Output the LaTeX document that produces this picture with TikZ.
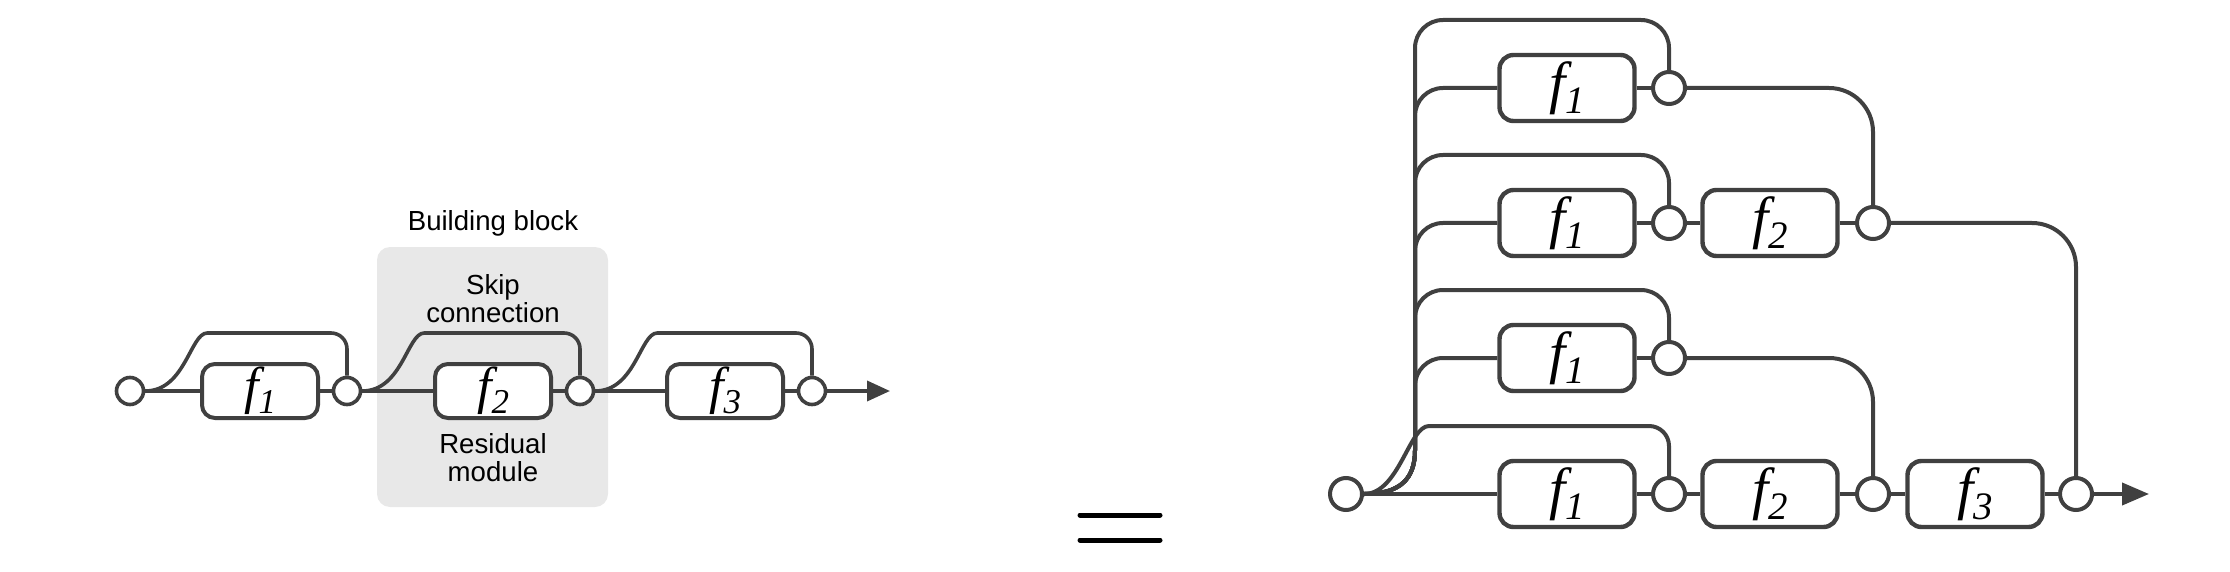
\documentclass[tikz,border=0pt]{standalone}
\usepackage{fontspec,graphicx}
\setmainfont{Liberation Sans}
\newfontfamily\fnfont{Liberation Serif}
\usetikzlibrary{arrows.meta}
\definecolor{linegray}{RGB}{64,64,64}
\definecolor{blockgray}{RGB}{232,232,232}
\newcommand{\fn}[1]{f\raisebox{-0.19em}{\scalebox{0.67}{#1}}}
\tikzset{
  rwire/.style={draw=linegray, line width=2pt},
  lwire/.style={draw=linegray, line width=1.8pt},
  fblock/.style={draw=linegray, line width=2.2pt, fill=white, rounded corners=7pt, minimum width=67.5pt, minimum height=33pt, inner sep=0pt, font=\fnfont\itshape\fontsize{29}{29}\selectfont},
  lblock/.style={fblock, line width=2pt, rounded corners=6.5pt, minimum width=58pt, minimum height=27pt, font=\fnfont\itshape\fontsize{26}{26}\selectfont},
  add/.style={circle, draw=linegray, line width=2pt, fill=white, minimum size=16pt, inner sep=0pt},
  ladd/.style={add, line width=1.8pt, minimum size=13.5pt},
  caption/.style={align=center, inner sep=0pt, font=\fontsize{13.8}{14}\selectfont}
}
\begin{document}
\begin{tikzpicture}[x=0.5pt, y=-0.5pt]
\useasboundingbox (0,0) rectangle (2230,572);
\fill[blockgray, rounded corners=6.5pt] (377,247) rectangle (608,507);
\node[caption] (title) at (493,223) {Building block};
\node[caption] (skiptext) at (493,299) {Skip\\connection};
\node[caption] (restext) at (493,458) {Residual\\module};
\node[ladd] (lin) at (130,391) {};
\node[lblock] (lf1) at (260,391) {\fn{1}};
\node[ladd] (ladd1) at (347,391) {};
\node[lblock] (lf2) at (493,391) {\fn{2}};
\node[ladd] (ladd2) at (580,391) {};
\node[lblock] (lf3) at (725,391) {\fn{3}};
\node[ladd] (ladd3) at (812,391) {};
\coordinate (lout) at (890,391);
\draw[lwire] (lin) -- (lf1) -- (ladd1) -- (lf2) -- (ladd2) -- (lf3) -- (ladd3);
\draw[lwire, -{Triangle[length=11.5pt,width=10pt]}] (ladd3) -- (lout);
\draw[lwire] (lin.east) .. controls +(40,0) and +(-17,0) .. ++(62,-58) [rounded corners=8pt] -| (ladd1.north);
\draw[lwire] (ladd1.east) .. controls +(40,0) and +(-17,0) .. ++(62,-58) [rounded corners=8pt] -| (ladd2.north);
\draw[lwire] (ladd2.east) .. controls +(40,0) and +(-17,0) .. ++(62,-58) [rounded corners=8pt] -| (ladd3.north);
\draw[line width=2.5pt, line cap=round] (1080,515) -- (1160,515) (1080,540) -- (1160,540);
\node[add] (rin) at (1346,494) {};
\coordinate (trunk) at (1415,450);
\foreach \rw/\y in {a/88,b/223,c/358,d/494}{
  \node[fblock] (\rw f1) at (1567,\y) {\fn{1}};
  \node[add] (\rw add1) at (1669,\y) {};
  \coordinate (\rw top) at (1669,\y-68);
  \draw[rwire] (\rw f1) -- (\rw add1);
}
\node[fblock] (bf2) at (1770,223) {\fn{2}};
\node[add] (badd2) at (1873,223) {};
\node[fblock] (df2) at (1770,494) {\fn{2}};
\node[add] (dadd2) at (1873,494) {};
\node[fblock] (df3) at (1975,494) {\fn{3}};
\node[add] (dadd3) at (2076,494) {};
\coordinate (rout) at (2149,494);
\foreach \rw in {a,b,c}{
  \draw[rwire] (rin.east) .. controls +(35,0) and +(0,30) .. (trunk) [rounded corners=14pt] |- (\rw f1.west);
  \draw[rwire] (rin.east) .. controls +(35,0) and +(0,30) .. (trunk) [rounded corners=14pt] |- (\rw top) [rounded corners=10pt] -- (\rw add1.north);
}
\draw[rwire] (rin.east) .. controls +(35,0) and +(-20,0) .. ++(65,-68) [rounded corners=10pt] -| (dadd1.north);
\draw[rwire] (rin) -- (df1);
\draw[rwire] (badd1) -- (bf2) -- (badd2);
\draw[rwire] (dadd1) -- (df2) -- (dadd2) -- (df3) -- (dadd3);
\draw[rwire, -{Triangle[length=13.5pt,width=11pt]}] (dadd3) -- (rout);
\draw[rwire, rounded corners=22pt] (aadd1.east) -| (badd2.north);
\draw[rwire, rounded corners=22pt] (badd2.east) -| (dadd3.north);
\draw[rwire, rounded corners=22pt] (cadd1.east) -| (dadd2.north);
\end{tikzpicture}
\end{document}
